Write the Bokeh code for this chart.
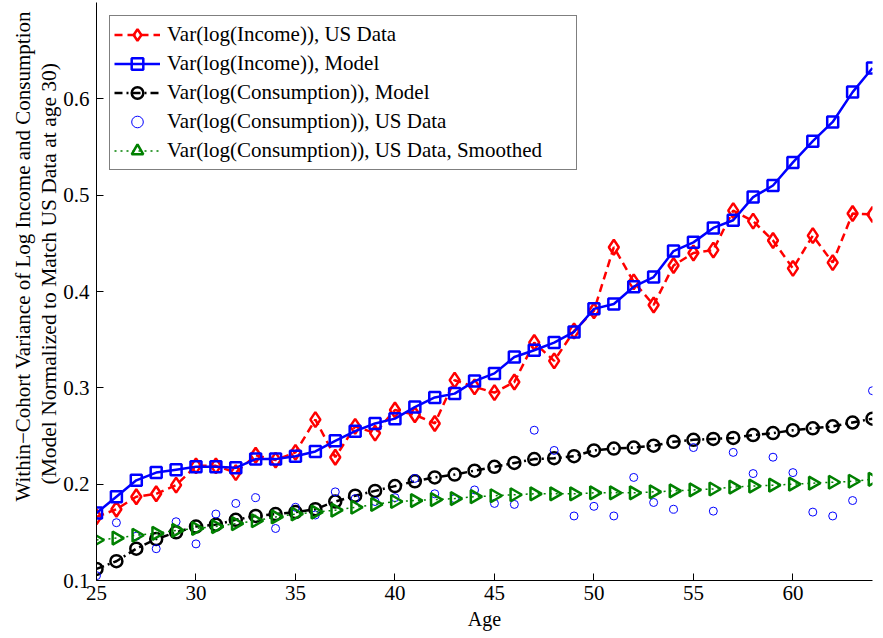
import numpy as np
from bokeh.plotting import figure
from bokeh.models import FixedTicker, Title, Legend, LegendItem, ColumnDataSource
from bokeh.embed import file_html
from bokeh.resources import INLINE

ages = list(range(25, 65))

income_us = [0.166, 0.174, 0.187, 0.190, 0.199, 0.219, 0.219, 0.212, 0.230, 0.225,
             0.233, 0.267, 0.228, 0.260, 0.253, 0.277, 0.272, 0.263, 0.308, 0.301,
             0.295, 0.306, 0.347, 0.328, 0.359, 0.380, 0.446, 0.410, 0.386, 0.427,
             0.440, 0.443, 0.484, 0.473, 0.453, 0.424, 0.458, 0.430, 0.481, 0.480]

income_model = [0.170, 0.187, 0.204, 0.212, 0.215, 0.218, 0.218, 0.217, 0.226, 0.226,
                0.229, 0.234, 0.245, 0.255, 0.263, 0.268, 0.280, 0.290, 0.294, 0.307,
                0.315, 0.332, 0.339, 0.347, 0.358, 0.382, 0.387, 0.405, 0.415, 0.442,
                0.451, 0.466, 0.474, 0.498, 0.510, 0.534, 0.556, 0.576, 0.607, 0.632]

cons_model = [0.112, 0.120, 0.133, 0.143, 0.150, 0.156, 0.158, 0.163, 0.167, 0.169,
              0.171, 0.174, 0.182, 0.188, 0.193, 0.198, 0.203, 0.207, 0.210, 0.214,
              0.218, 0.222, 0.226, 0.227, 0.229, 0.235, 0.237, 0.238, 0.240, 0.244,
              0.246, 0.247, 0.248, 0.251, 0.253, 0.256, 0.258, 0.260, 0.264, 0.268]

cons_us = [0.105, 0.160, 0.146, 0.133, 0.161, 0.138, 0.169, 0.180, 0.186, 0.154,
           0.176, 0.168, 0.192, 0.185, 0.182, 0.186, 0.206, 0.190, 0.185, 0.194,
           0.180, 0.179, 0.256, 0.235, 0.167, 0.177, 0.167, 0.207, 0.181, 0.174,
           0.238, 0.172, 0.233, 0.211, 0.228, 0.212, 0.171, 0.167, 0.183, 0.297]

cons_smoothed = [0.142, 0.144, 0.147, 0.149, 0.152, 0.154, 0.156, 0.159, 0.162, 0.166,
                 0.169, 0.171, 0.173, 0.176, 0.179, 0.182, 0.183, 0.184, 0.185, 0.187,
                 0.188, 0.189, 0.190, 0.190, 0.190, 0.191, 0.191, 0.191, 0.192, 0.193,
                 0.194, 0.195, 0.197, 0.198, 0.199, 0.200, 0.201, 0.202, 0.203, 0.205]

labels = ["Var(log(Income)), US Data",
          "Var(log(Income)), Model",
          "Var(log(Consumption)), Model",
          "Var(log(Consumption)), US Data",
          "Var(log(Consumption)), US Data, Smoothed"]

x_ticks = [25, 30, 35, 40, 45, 50, 55, 60]
y_ticks = [0.1, 0.2, 0.3, 0.4, 0.5, 0.6]

FONT = "Liberation Serif"

p = figure(width=883, height=638, output_backend="svg", toolbar_location=None,
           x_range=(25, 64), y_range=(0.1, 0.7),
           min_border_left=96, min_border_right=11, min_border_top=2, min_border_bottom=58)
p.outline_line_color = None
p.grid.visible = False
p.background_fill_color = "white"
p.border_fill_color = "white"

RED, BLUE, GREEN = "#ff0000", "#0000ff", "#008000"

r1l = p.line(ages, income_us, line_color=RED, line_width=2.5, line_dash="8 5")
r1m = p.scatter(ages, income_us, marker="diamond", size=15, fill_color=None,
                line_color=RED, line_width=2.5)
r2l = p.line(ages, income_model, line_color=BLUE, line_width=2.5)
r2m = p.scatter(ages, income_model, marker="square", size=11, fill_color=None,
                line_color=BLUE, line_width=2.5)
r3l = p.line(ages, cons_model, line_color="black", line_width=2.5, line_dash="8 4 2 4")
r3m = p.scatter(ages, cons_model, marker="circle", size=12, fill_color=None,
                line_color="black", line_width=2.5)
r4m = p.scatter(ages, cons_us, marker="circle", size=8, fill_color=None,
                line_color=BLUE, line_width=1)
r5l = p.line(ages, cons_smoothed, line_color=GREEN, line_width=1.5, line_dash="2 4")
src5 = ColumnDataSource(dict(x=ages, y=cons_smoothed, ang=[-np.pi / 2] * len(ages)))
r5m = p.scatter("x", "y", source=src5, marker="triangle", size=13, angle="ang",
                fill_color=None, line_color=GREEN, line_width=2.5)

legend = Legend(items=[LegendItem(label=labels[0], renderers=[r1l, r1m]),
                       LegendItem(label=labels[1], renderers=[r2l, r2m]),
                       LegendItem(label=labels[2], renderers=[r3l, r3m]),
                       LegendItem(label=labels[3], renderers=[r4m]),
                       LegendItem(label=labels[4], renderers=[r5l, r5m])],
                location="top_left")
legend.label_text_font = FONT
legend.label_text_font_size = "21px"
legend.label_text_color = "black"
legend.border_line_color = "black"
legend.border_line_width = 1.5
legend.background_fill_alpha = 1.0
legend.glyph_width = 46
legend.glyph_height = 29
legend.label_height = 29
legend.spacing = 0
legend.padding = 4
legend.margin = 13
legend.label_standoff = 7
legend.label_width = 405
p.add_layout(legend)

for ax in (p.xaxis[0], p.yaxis[0]):
    ax.major_label_text_font = FONT
    ax.major_label_text_font_size = "21px"
    ax.major_tick_in = 7
    ax.major_tick_out = 0
    ax.minor_tick_line_color = None
    ax.axis_line_color = "black"
    ax.major_tick_line_color = "black"
    ax.major_label_text_color = "black"

p.xaxis[0].ticker = FixedTicker(ticks=x_ticks)
p.yaxis[0].ticker = FixedTicker(ticks=y_ticks)
p.xaxis[0].major_label_standoff = 5
p.yaxis[0].major_label_standoff = 7

p.xaxis[0].axis_label = "Age"
p.xaxis[0].axis_label_text_font = FONT
p.xaxis[0].axis_label_text_font_size = "20px"
p.xaxis[0].axis_label_text_font_style = "normal"
p.xaxis[0].axis_label_text_color = "black"
p.xaxis[0].axis_label_standoff = 5

t2 = Title(text="(Model Normalized to Match US Data at age 30)", align="left",
           text_font=FONT, text_font_size="21.5px", text_font_style="normal",
           text_color="black", standoff=0, offset=96)
t1 = Title(text="Within\u2212Cohort Variance of Log Income and Consumption", align="left",
           text_font=FONT, text_font_size="21px", text_font_style="normal",
           text_color="black", standoff=0, offset=79)
p.add_layout(t2, "left")
p.add_layout(t1, "left")

open("out.html", "w").write(file_html(p, INLINE))
